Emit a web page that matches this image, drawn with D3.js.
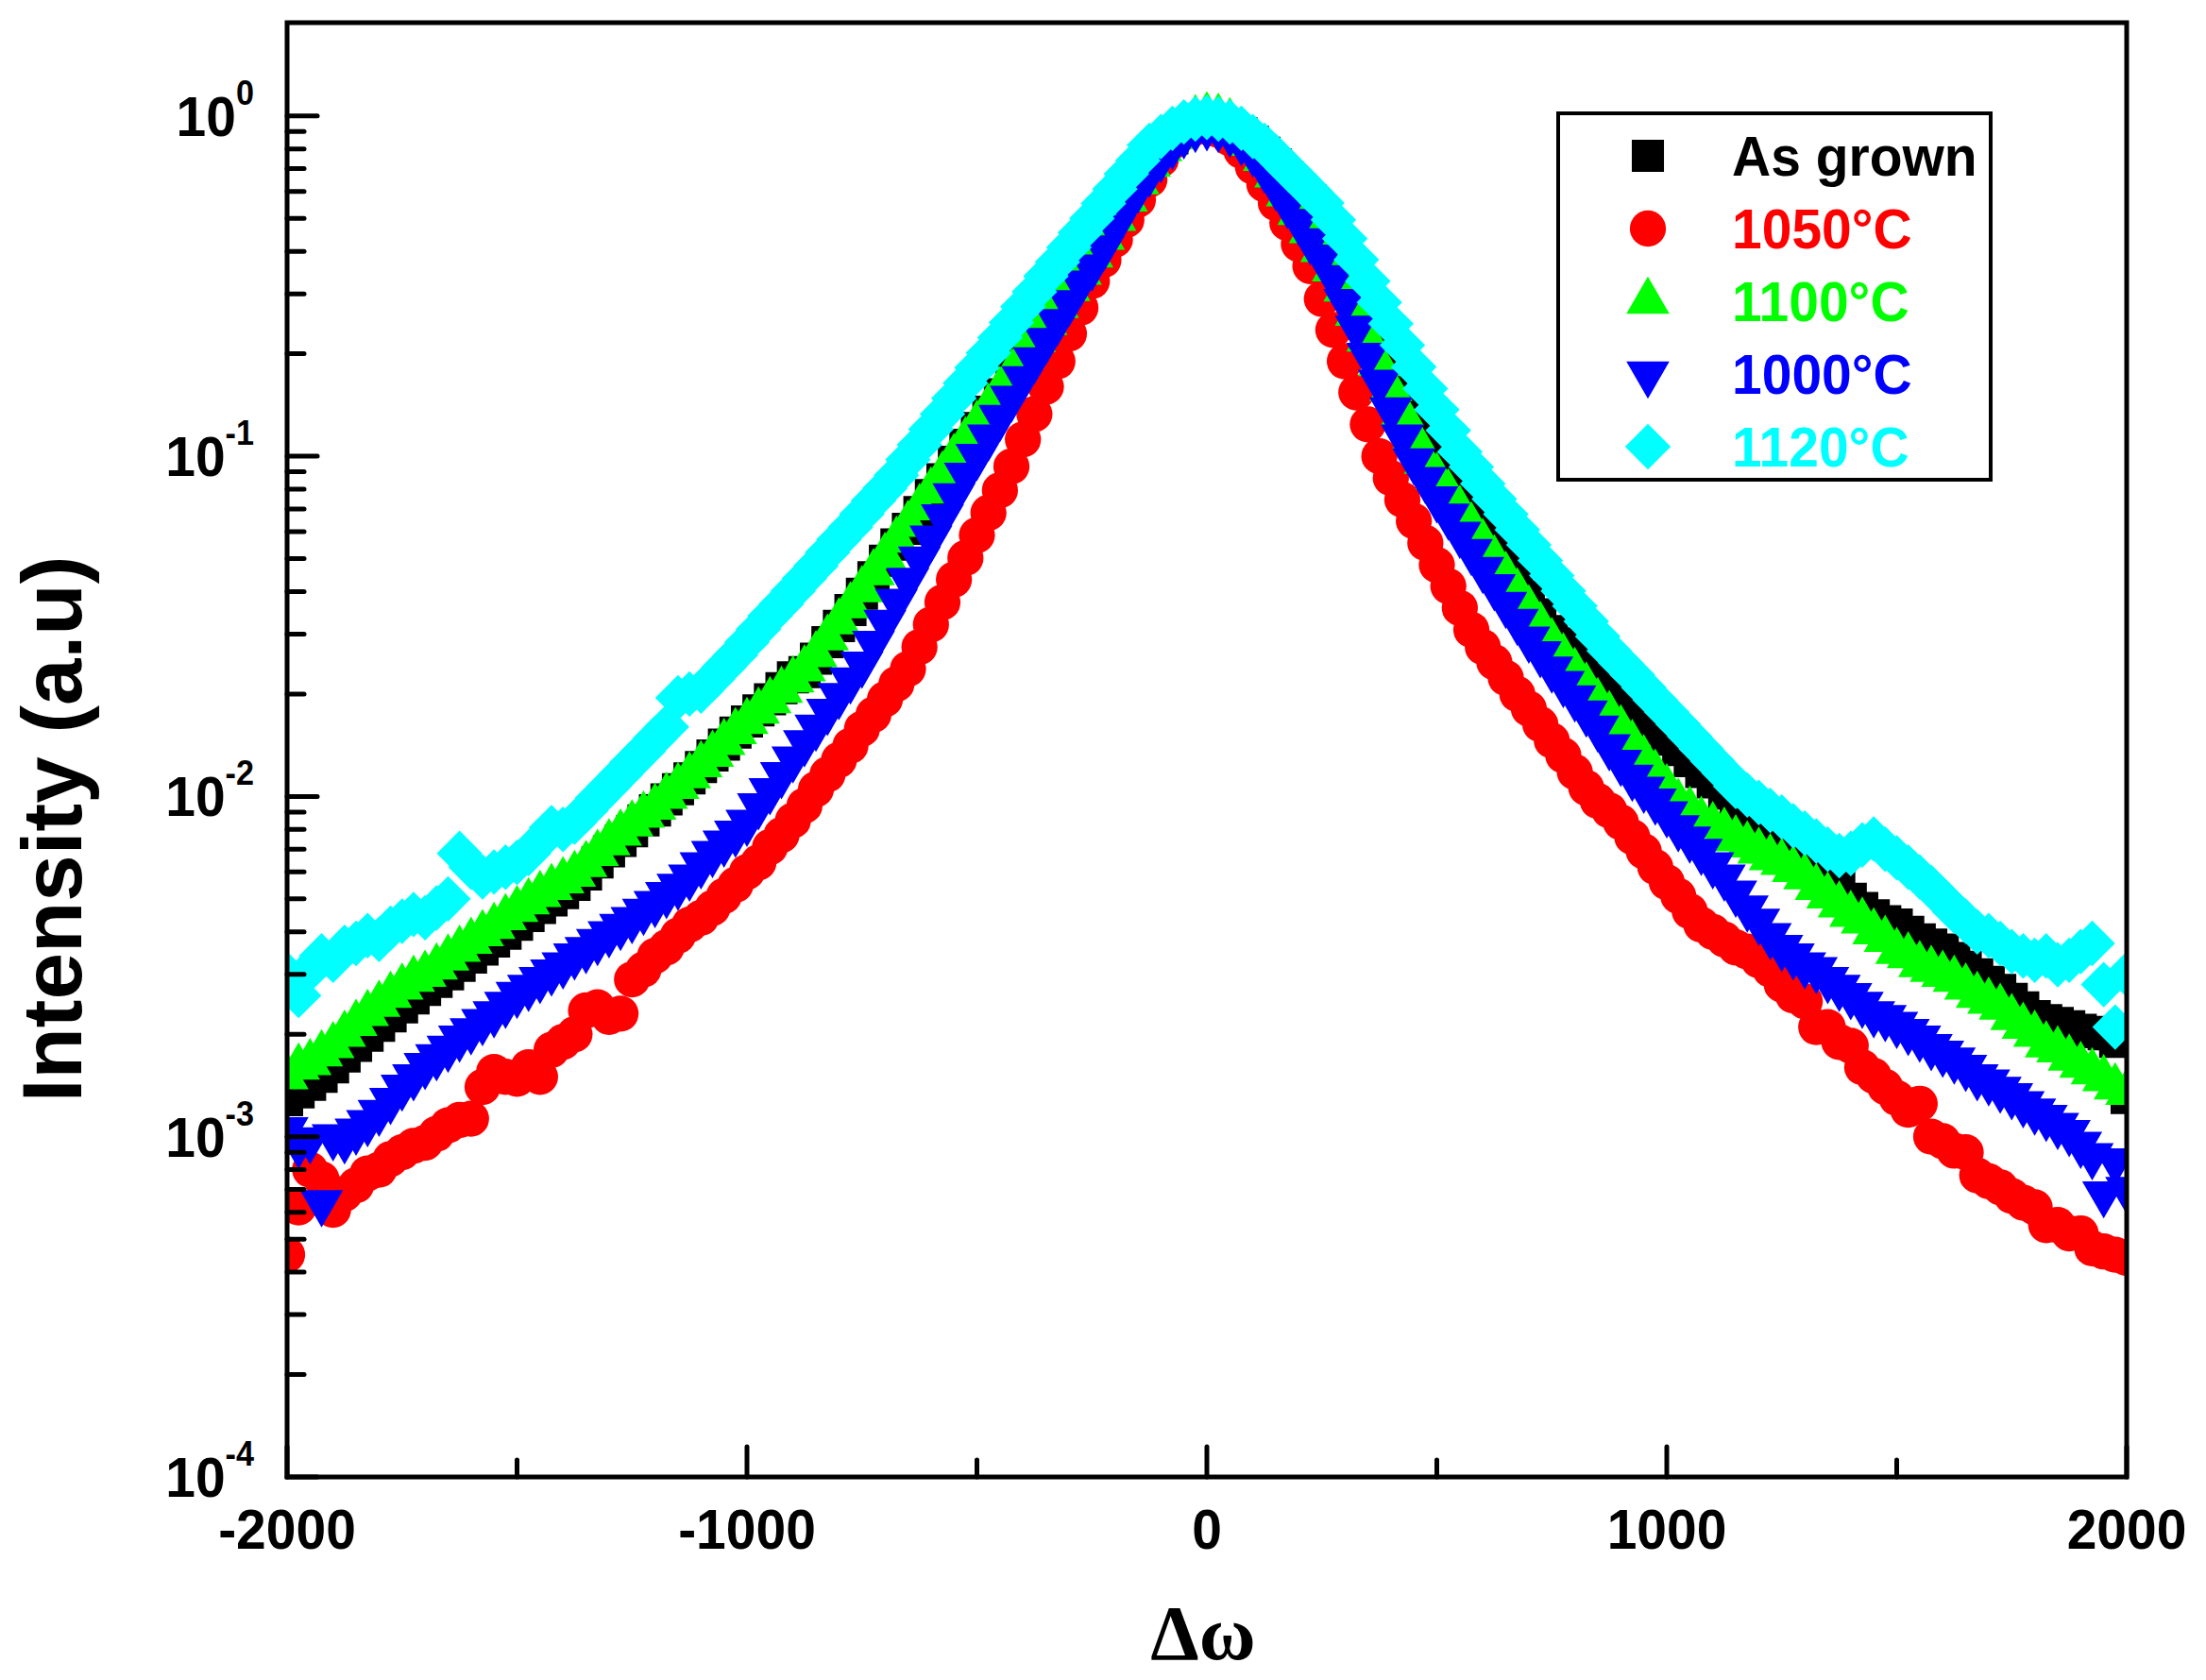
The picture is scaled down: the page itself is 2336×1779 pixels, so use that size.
<!DOCTYPE html>
<html>
<head>
<meta charset="utf-8">
<script src="https://cdn.jsdelivr.net/npm/d3@7"></script>
<style>
  body { margin: 0; background: #fff; }
  svg { display: block; }
</style>
</head>
<body>
<svg id="chart" width="2336" height="1779"></svg>
<script>
// omega offsets (step 25), shared by all five scans
let omega = [
  -2000, -1975, -1950, -1925, -1900, -1875, -1850, -1825, -1800, -1775,
  -1750, -1725, -1700, -1675, -1650, -1625, -1600, -1575, -1550, -1525,
  -1500, -1475, -1450, -1425, -1400, -1375, -1350, -1325, -1300, -1275,
  -1250, -1225, -1200, -1175, -1150, -1125, -1100, -1075, -1050, -1025,
  -1000, -975, -950, -925, -900, -875, -850, -825, -800, -775,
  -750, -725, -700, -675, -650, -625, -600, -575, -550, -525,
  -500, -475, -450, -425, -400, -375, -350, -325, -300, -275,
  -250, -225, -200, -175, -150, -125, -100, -75, -50, -25,
  0, 25, 50, 75, 100, 125, 150, 175, 200, 225,
  250, 275, 300, 325, 350, 375, 400, 425, 450, 475,
  500, 525, 550, 575, 600, 625, 650, 675, 700, 725,
  750, 775, 800, 825, 850, 875, 900, 925, 950, 975,
  1000, 1025, 1050, 1075, 1100, 1125, 1150, 1175, 1200, 1225,
  1250, 1275, 1300, 1325, 1350, 1375, 1400, 1425, 1450, 1475,
  1500, 1525, 1550, 1575, 1600, 1625, 1650, 1675, 1700, 1725,
  1750, 1775, 1800, 1825, 1850, 1875, 1900, 1925, 1950, 1975,
  2000
]

let asGrown = [
  0.00128, 0.00135, 0.00142, 0.00150, 0.00160, 0.00172, 0.00185, 0.00198, 0.00212, 0.00226,
  0.00240, 0.00255, 0.00270, 0.00285, 0.00300, 0.00318, 0.00336, 0.00355, 0.00375, 0.00395,
  0.00420, 0.00445, 0.00470, 0.00495, 0.00520, 0.00550, 0.00590, 0.00640, 0.00690, 0.00740,
  0.00790, 0.00850, 0.00910, 0.00980, 0.0105, 0.0113, 0.0122, 0.0132, 0.0142, 0.0154,
  0.0166, 0.0179, 0.0193, 0.0208, 0.0224, 0.0232, 0.0254, 0.0284, 0.0317, 0.0353,
  0.0394, 0.0441, 0.0493, 0.0550, 0.0612, 0.0685, 0.0768, 0.0855, 0.0962, 0.108,
  0.121, 0.135, 0.152, 0.174, 0.196, 0.219, 0.246, 0.276, 0.310, 0.346,
  0.388, 0.438, 0.495, 0.563, 0.635, 0.712, 0.790, 0.860, 0.920, 0.955,
  0.965, 0.955, 0.930, 0.890, 0.840, 0.780, 0.720, 0.660, 0.610, 0.565,
  0.505, 0.445, 0.385, 0.325, 0.272, 0.228, 0.191, 0.160, 0.135, 0.114,
  0.0966, 0.0865, 0.0770, 0.0687, 0.0612, 0.0545, 0.0485, 0.0433, 0.0386, 0.0343,
  0.0306, 0.0282, 0.0263, 0.0245, 0.0226, 0.0211, 0.0196, 0.0182, 0.0170, 0.0158,
  0.0147, 0.0137, 0.0127, 0.0118, 0.0110, 0.0102, 0.0095, 0.0089, 0.0084, 0.0079,
  0.0074, 0.0069, 0.0065, 0.0061, 0.0057, 0.0054, 0.0050, 0.0047, 0.00447, 0.0043,
  0.0042, 0.0040, 0.0038, 0.00367, 0.00355, 0.00335, 0.00316, 0.0030, 0.00285, 0.0027,
  0.00254, 0.0024, 0.00226, 0.0022, 0.00216, 0.00211, 0.00206, 0.00203, 0.0020, 0.0019,
  0.0013
]

let t1050 = [
  0.00045, 0.00062, 0.00080, 0.00075, 0.00061, 0.00068, 0.00072, 0.00078, 0.00080, 0.00086,
  0.00090, 0.00094, 0.00096, 0.00102, 0.00108, 0.00112, 0.00113, 0.00140, 0.00155, 0.00150,
  0.00148, 0.00160, 0.00150, 0.00180, 0.00190, 0.00200, 0.00235, 0.00240, 0.00225, 0.00230,
  0.00290, 0.00310, 0.00340, 0.00360, 0.00390, 0.00420, 0.00440, 0.00470, 0.00510, 0.00550,
  0.00600, 0.00640, 0.00710, 0.00770, 0.00850, 0.00940, 0.0105, 0.0116, 0.0128, 0.0141,
  0.0158, 0.0174, 0.0193, 0.0214, 0.0237, 0.0275, 0.0320, 0.0372, 0.0434, 0.0502,
  0.0586, 0.0682, 0.0794, 0.0933, 0.112, 0.133, 0.160, 0.190, 0.229, 0.273,
  0.327, 0.377, 0.433, 0.495, 0.567, 0.650, 0.745, 0.840, 0.895, 0.925,
  0.930, 0.910, 0.860, 0.790, 0.710, 0.630, 0.555, 0.485, 0.420, 0.362,
  0.290, 0.235, 0.190, 0.154, 0.124, 0.100, 0.0863, 0.0745, 0.0645, 0.0556,
  0.0479, 0.0415, 0.0358, 0.0309, 0.0275, 0.0248, 0.0223, 0.0200, 0.0181, 0.0163,
  0.0146, 0.0132, 0.0118, 0.0106, 0.0097, 0.0091, 0.0084, 0.0076, 0.0069, 0.0062,
  0.0056, 0.0051, 0.0046, 0.0042, 0.0040, 0.0038, 0.0036, 0.0035, 0.0033, 0.0031,
  0.0028, 0.0026, 0.0025, 0.0021, 0.0021, 0.0019, 0.00185, 0.00160, 0.00151, 0.00140,
  0.00130, 0.00120, 0.00125, 0.00100, 0.00097, 0.00091, 0.00090, 0.00077, 0.00074, 0.00071,
  0.00067, 0.00064, 0.00062, 0.00055, 0.00055, 0.00052, 0.00052, 0.00047, 0.00046, 0.00045,
  0.00044
]

let t1100 = [
  0.00150, 0.00160, 0.00165, 0.00175, 0.00185, 0.00200, 0.00215, 0.00230, 0.00245, 0.00260,
  0.00275, 0.00290, 0.00300, 0.00315, 0.00335, 0.00355, 0.00375, 0.00395, 0.00415, 0.00440,
  0.00465, 0.00490, 0.00515, 0.00540, 0.00565, 0.00590, 0.00630, 0.00680, 0.00730, 0.00780,
  0.00830, 0.00880, 0.00930, 0.0100, 0.0107, 0.0115, 0.0124, 0.0133, 0.0144, 0.0155,
  0.0166, 0.0178, 0.0191, 0.0205, 0.0220, 0.0237, 0.0261, 0.0292, 0.0326, 0.0363,
  0.0405, 0.0454, 0.0507, 0.0566, 0.0630, 0.0705, 0.0790, 0.0880, 0.0990, 0.111,
  0.124, 0.139, 0.156, 0.175, 0.197, 0.220, 0.247, 0.277, 0.311, 0.347,
  0.390, 0.440, 0.500, 0.570, 0.640, 0.720, 0.800, 0.870, 0.930, 0.980,
  1.000, 0.990, 0.960, 0.900, 0.830, 0.750, 0.670, 0.590, 0.520, 0.460,
  0.405, 0.355, 0.310, 0.263, 0.221, 0.187, 0.158, 0.134, 0.114, 0.0966,
  0.0870, 0.0780, 0.0697, 0.0623, 0.0557, 0.0499, 0.0446, 0.0399, 0.0356, 0.0318,
  0.0285, 0.0257, 0.0233, 0.0211, 0.0190, 0.0174, 0.0158, 0.0143, 0.0129, 0.0117,
  0.0106, 0.0096, 0.0091, 0.0085, 0.0082, 0.0079, 0.0075, 0.0072, 0.0069, 0.0066,
  0.0064, 0.0061, 0.0058, 0.0054, 0.0051, 0.0048, 0.0045, 0.0043, 0.0040, 0.0038,
  0.0035, 0.0034, 0.0032, 0.0031, 0.0030, 0.0029, 0.00275, 0.0026, 0.0025, 0.0024,
  0.00224, 0.00211, 0.00200, 0.00186, 0.00180, 0.00170, 0.00162, 0.00155, 0.00148, 0.00140,
  0.00135
]

let t1000 = [
  0.00105, 0.00095, 0.00098, 0.00064, 0.00100, 0.00098, 0.00104, 0.00110, 0.00118, 0.00128,
  0.00140, 0.00150, 0.00162, 0.00172, 0.00182, 0.00195, 0.00205, 0.00218, 0.00230, 0.00245,
  0.00262, 0.00275, 0.00290, 0.00305, 0.00320, 0.00340, 0.00355, 0.00375, 0.00395, 0.00415,
  0.00435, 0.00460, 0.00485, 0.00515, 0.00545, 0.00580, 0.00630, 0.00680, 0.00730, 0.00780,
  0.0084, 0.0094, 0.0104, 0.0116, 0.0129, 0.0144, 0.0160, 0.0178, 0.0198, 0.0220,
  0.0245, 0.0282, 0.0325, 0.0375, 0.0432, 0.0499, 0.0575, 0.0664, 0.0765, 0.0880,
  0.100, 0.114, 0.130, 0.148, 0.169, 0.192, 0.219, 0.249, 0.283, 0.323,
  0.360, 0.410, 0.470, 0.540, 0.610, 0.680, 0.750, 0.820, 0.880, 0.920,
  0.930, 0.920, 0.890, 0.840, 0.780, 0.700, 0.620, 0.550, 0.490, 0.430,
  0.385, 0.335, 0.285, 0.238, 0.198, 0.165, 0.137, 0.114, 0.097, 0.0855,
  0.0750, 0.0667, 0.0590, 0.0525, 0.0465, 0.0414, 0.0367, 0.0327, 0.0290, 0.0263,
  0.0237, 0.0215, 0.0195, 0.0176, 0.0159, 0.0140, 0.0126, 0.0114, 0.0105, 0.0097,
  0.0089, 0.0081, 0.0075, 0.0069, 0.0063, 0.0058, 0.0052, 0.0047, 0.0043, 0.0039,
  0.0036, 0.0034, 0.0032, 0.0031, 0.0029, 0.00275, 0.0026, 0.00245, 0.0023, 0.00224,
  0.00214, 0.00204, 0.00195, 0.00184, 0.00176, 0.00168, 0.00160, 0.00150, 0.00145, 0.00138,
  0.00132, 0.00125, 0.00119, 0.00114, 0.00108, 0.00103, 0.00095, 0.00088, 0.00068, 0.00085,
  0.00070
]

let t1120 = [
  0.0030, 0.0026, 0.0031, 0.0034, 0.0033, 0.0036, 0.0037, 0.0039, 0.0038, 0.0041,
  0.0043, 0.0045, 0.0044, 0.0047, 0.0050, 0.0068, 0.0062, 0.0058, 0.0060, 0.0062,
  0.0064, 0.0068, 0.0074, 0.0081, 0.0080, 0.0084, 0.0091, 0.0099, 0.0107, 0.0116,
  0.0126, 0.0136, 0.0148, 0.0160, 0.0195, 0.0200, 0.0204, 0.0221, 0.0240, 0.0260,
  0.0284, 0.0310, 0.0339, 0.0368, 0.0401, 0.0437, 0.0476, 0.0521, 0.0569, 0.0619,
  0.0676, 0.0740, 0.0805, 0.0879, 0.0977, 0.108, 0.120, 0.133, 0.148, 0.164,
  0.182, 0.201, 0.223, 0.247, 0.275, 0.304, 0.338, 0.372, 0.411, 0.454,
  0.500, 0.553, 0.610, 0.675, 0.740, 0.820, 0.870, 0.920, 0.960, 0.980,
  0.990, 0.980, 0.960, 0.920, 0.870, 0.820, 0.760, 0.700, 0.650, 0.600,
  0.555, 0.495, 0.436, 0.378, 0.327, 0.283, 0.245, 0.212, 0.183, 0.158,
  0.137, 0.119, 0.103, 0.093, 0.083, 0.0748, 0.0675, 0.0608, 0.0549, 0.0494,
  0.0446, 0.0402, 0.0363, 0.0327, 0.0295, 0.0268, 0.0247, 0.0228, 0.0209, 0.0192,
  0.0177, 0.0163, 0.0150, 0.0138, 0.0127, 0.0117, 0.0107, 0.0101, 0.0096, 0.0091,
  0.0087, 0.0082, 0.0078, 0.0074, 0.0070, 0.0067, 0.0068, 0.0072, 0.0075, 0.0070,
  0.0066, 0.0062, 0.0058, 0.0054, 0.0050, 0.0046, 0.0043, 0.0040, 0.0039, 0.0037,
  0.0035, 0.0034, 0.0033, 0.0034, 0.0032, 0.0033, 0.0035, 0.0037, 0.0028, 0.0021,
  0.0030
]

let seriesNames = ['As grown', '1050\u00b0C', '1100\u00b0C', '1000\u00b0C', '1120\u00b0C']
let seriesValues = [asGrown, t1050, t1100, t1000, t1120]
let seriesColors = ['#000000', '#ff0000', '#00ff00', '#0000ff', '#00ffff']

let xTicks = [-2000, -1000, 0, 1000, 2000]
let xMinorTicks = [-1500, -500, 500, 1500]
let yExponents = [0, -1, -2, -3, -4]

let svg = d3.select('#chart')
let plotLeft = 304, plotRight = 2252, plotTop = 24, plotBottom = 1564

let x = d3.scaleLinear().domain([-2000, 2000]).range([plotLeft, plotRight])
let y = d3.scaleLog().domain([1e-4, 1.88]).range([plotBottom, plotTop])

// marker shapes: square, circle, up triangle, down triangle, diamond
let shapes = [
  { type: d3.symbolSquare, size: 1160, rotate: 0 },
  { type: d3.symbolCircle, size: 1150, rotate: 0 },
  { type: d3.symbolTriangle, size: 900, rotate: 0 },
  { type: d3.symbolTriangle, size: 900, rotate: 180 },
  { type: d3.symbolSquare, size: 1170, rotate: 45 }
]

svg.append('defs').append('clipPath')
    .attr('id', 'plotclip')
  .append('rect')
    .attr('x', plotLeft).attr('y', plotTop)
    .attr('width', plotRight - plotLeft).attr('height', plotBottom - plotTop)

let plot = svg.append('g').attr('clip-path', 'url(#plotclip)')

seriesValues.forEach((vals, i) => {
    let sym = d3.symbol().type(shapes[i].type).size(shapes[i].size)
    plot.append('g')
        .selectAll('path')
        .data(omega.map((w, j) => [w, vals[j]]))
        .join('path')
        .attr('d', sym)
        .attr('fill', seriesColors[i])
        .attr('transform', d => `translate(${x(d[0])},${y(d[1])}) rotate(${shapes[i].rotate})`)
})

// y axis: ticks inside, labels drawn by hand as 10^n
let yMinor = []
yExponents.slice(1).forEach(e => {
    for (let k = 2; k <= 9; k++) yMinor.push(k * Math.pow(10, e))
})

let axes = svg.append('g')
    .attr('stroke', '#000')
    .attr('stroke-linecap', 'round')

axes.selectAll('.ymaj')
    .data(yExponents)
    .join('line')
    .attr('x1', plotLeft).attr('x2', plotLeft + 32)
    .attr('y1', e => y(Math.pow(10, e))).attr('y2', e => y(Math.pow(10, e)))
    .attr('stroke-width', 5)

axes.selectAll('.ymin')
    .data(yMinor)
    .join('line')
    .attr('x1', plotLeft).attr('x2', plotLeft + 18)
    .attr('y1', d => y(d)).attr('y2', d => y(d))
    .attr('stroke-width', 5)

axes.selectAll('.xmaj')
    .data(xTicks)
    .join('line')
    .attr('x1', d => x(d)).attr('x2', d => x(d))
    .attr('y1', plotBottom).attr('y2', plotBottom - 32)
    .attr('stroke-width', 5)

axes.selectAll('.xmin')
    .data(xMinorTicks)
    .join('line')
    .attr('x1', d => x(d)).attr('x2', d => x(d))
    .attr('y1', plotBottom).attr('y2', plotBottom - 18)
    .attr('stroke-width', 5)

svg.append('rect')
    .attr('x', plotLeft).attr('y', plotTop)
    .attr('width', plotRight - plotLeft).attr('height', plotBottom - plotTop)
    .attr('fill', 'none')
    .attr('stroke', '#000')
    .attr('stroke-width', 5)

let font = 'Liberation Sans, Arial, sans-serif'
let squeeze = 'scale(0.95,1)'

let yLabels = svg.append('g')
    .style('font-family', font)
    .style('font-weight', 'bold')

yExponents.forEach(e => {
    let t = yLabels.append('text')
        .attr('transform', `translate(269,${y(Math.pow(10, e)) + 21}) ${squeeze}`)
        .attr('text-anchor', 'end')
        .style('font-size', '60px')
    t.append('tspan').text('10')
    t.append('tspan')
        .attr('dy', -33)
        .style('font-size', '36px')
        .text(e)
})

svg.append('g')
    .style('font-family', font)
    .style('font-weight', 'bold')
    .style('font-size', '60px')
    .attr('text-anchor', 'middle')
  .selectAll('text')
    .data(xTicks)
    .join('text')
    .attr('transform', d => `translate(${x(d)},1640) ${squeeze}`)
    .text(d => d)

svg.append('text')
    .attr('transform', 'translate(86,878) rotate(-90)')
    .attr('text-anchor', 'middle')
    .style('font-family', font)
    .style('font-weight', 'bold')
    .style('font-size', '89px')
    .text('Intensity (a.u)')

svg.append('text')
    .attr('x', 1274)
    .attr('y', 1757)
    .attr('text-anchor', 'middle')
    .style('font-family', 'Liberation Serif, Times New Roman, serif')
    .style('font-weight', 'bold')
    .style('font-size', '82px')
    .text('\u0394\u03c9')

// legend
let legend = svg.append('g')

legend.append('rect')
    .attr('x', 1650).attr('y', 120)
    .attr('width', 458).attr('height', 388)
    .attr('fill', '#fff')
    .attr('stroke', '#000')
    .attr('stroke-width', 4)

seriesNames.forEach((name, i) => {
    let cy = 165 + i * 77
    legend.append('path')
        .attr('d', d3.symbol().type(shapes[i].type).size(shapes[i].size))
        .attr('fill', seriesColors[i])
        .attr('transform', `translate(1745,${cy}) rotate(${shapes[i].rotate})`)
    legend.append('text')
        .attr('transform', `translate(1834,${cy + 21}) ${squeeze}`)
        .style('font-family', font)
        .style('font-weight', 'bold')
        .style('font-size', '60px')
        .attr('fill', seriesColors[i])
        .text(name)
})
</script>
</body>
</html>
